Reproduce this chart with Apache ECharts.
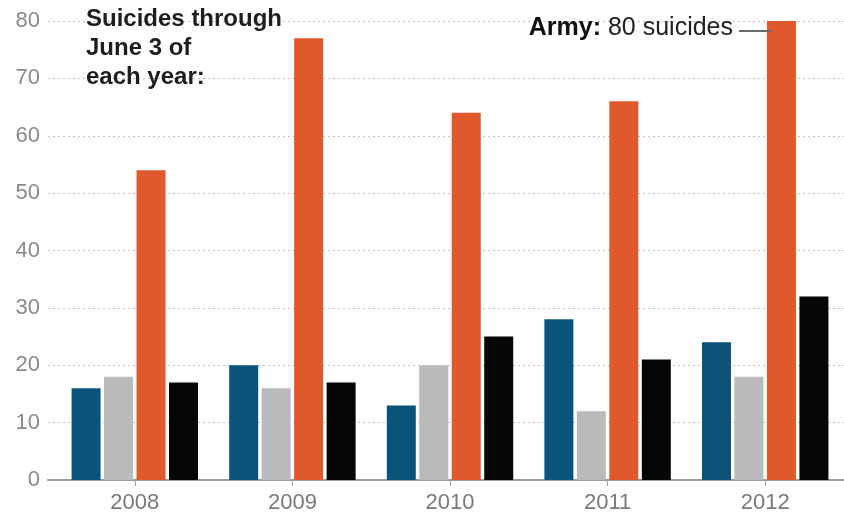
<!DOCTYPE html>
<html>
<head>
<meta charset="utf-8">
<style>
  html, body { margin: 0; padding: 0; background: #ffffff; }
  #chart { width: 844px; height: 521px; }
</style>
<script src="https://cdn.jsdelivr.net/npm/echarts@6/dist/echarts.min.js"></script>
</head>
<body>
<div id="chart"></div>
<script>
// Data
const years = ['2008', '2009', '2010', '2011', '2012'];
const blueSeries = [16, 20, 13, 28, 24];
const graySeries = [18, 16, 20, 12, 18];
const armySeries = [54, 77, 64, 66, 80];
const blackSeries = [17, 17, 25, 21, 32];
const yMin = 0, yMax = 80, yStep = 10;
const noteLines = ['Suicides through', 'June 3 of', 'each year:'];

const FONT = '"Liberation Sans", Arial, sans-serif';
const chart = echarts.init(document.getElementById('chart'), null, { renderer: 'canvas' });

const lastArmy = armySeries[armySeries.length - 1];

const option = {
  animation: false,
  backgroundColor: '#ffffff',
  grid: [
    { left: 48, right: 0, top: 21, bottom: 41 },
    { left: 56, width: 792, top: 21, bottom: 41 }
  ],
  xAxis: [
    {
      gridIndex: 0, type: 'category', data: [''],
      axisLine: { show: true, lineStyle: { color: '#9a9a9a', width: 2 } },
      axisTick: { show: false }, axisLabel: { show: false }, splitLine: { show: false }
    },
    {
      gridIndex: 1, type: 'category', data: years,
      axisLine: { show: false },
      axisTick: { show: true, alignWithLabel: true, length: 6, lineStyle: { color: '#a0a0a0', width: 1 } },
      axisLabel: { color: '#7a7a7a', fontSize: 22, fontFamily: FONT, margin: 12 }
    }
  ],
  yAxis: [
    {
      gridIndex: 0, type: 'value', min: yMin, max: yMax, interval: yStep,
      axisLine: { show: false }, axisTick: { show: false },
      axisLabel: { color: '#8a8a8a', fontSize: 22, fontFamily: FONT, margin: 8 },
      splitLine: { show: true, lineStyle: { color: '#bfbfbf', type: [2, 3], width: 1 } }
    },
    {
      gridIndex: 1, type: 'value', min: yMin, max: yMax, interval: yStep,
      axisLine: { show: false }, axisTick: { show: false },
      axisLabel: { show: false }, splitLine: { show: false }
    }
  ],
  series: [
    { name: 'Blue', type: 'bar', xAxisIndex: 1, yAxisIndex: 1, data: blueSeries,
      barWidth: 29, barGap: '12%', itemStyle: { color: '#0b5479' } },
    { name: 'Gray', type: 'bar', xAxisIndex: 1, yAxisIndex: 1, data: graySeries,
      barWidth: 29, barGap: '12%', itemStyle: { color: '#b9babc' } },
    { name: 'Army', type: 'bar', xAxisIndex: 1, yAxisIndex: 1, data: armySeries,
      barWidth: 29, barGap: '12%', itemStyle: { color: '#df592c' } },
    { name: 'Black', type: 'bar', xAxisIndex: 1, yAxisIndex: 1, data: blackSeries,
      barWidth: 29, barGap: '12%', itemStyle: { color: '#050505' } }
  ],
  graphic: [
    {
      type: 'text', left: 86, top: 5, z: 10,
      style: {
        text: noteLines.join('\n'),
        font: 'bold 24px ' + FONT,
        fill: '#1e1e1e',
        lineHeight: 29
      }
    },
    {
      type: 'text', right: 111, top: 16, z: 10,
      style: {
        text: '{b|Army:}{n| ' + lastArmy + ' suicides}',
        rich: {
          b: { font: 'bold 25px ' + FONT, fill: '#111111' },
          n: { font: '25px ' + FONT, fill: '#222222' }
        }
      }
    },
    {
      type: 'line', z: 10,
      shape: { x1: 739, y1: 31, x2: 771, y2: 31 },
      style: { stroke: '#6a6a6a', lineWidth: 2 }
    }
  ]
};

chart.setOption(option);
</script>
</body>
</html>
